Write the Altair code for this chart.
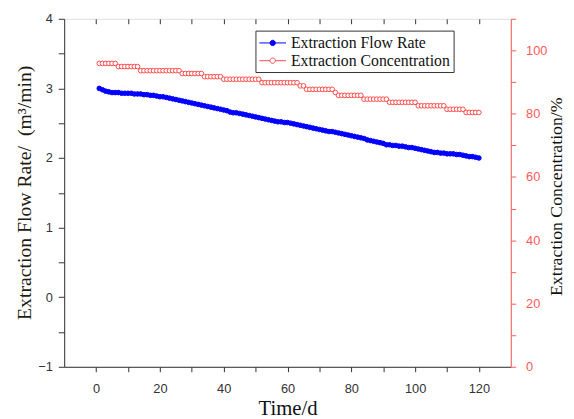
import altair as alt
import pandas as pd

days = list(range(1, 121))

flow_rate = [
    3.00, 2.98, 2.96, 2.95, 2.94, 2.94, 2.94, 2.93, 2.93, 2.93,
    2.93, 2.92, 2.92, 2.92, 2.91, 2.91, 2.90, 2.90, 2.89, 2.88,
    2.88, 2.87, 2.86, 2.85, 2.84, 2.83, 2.82, 2.81, 2.80, 2.79,
    2.78, 2.77, 2.76, 2.75, 2.74, 2.73, 2.72, 2.71, 2.70, 2.69,
    2.68, 2.66, 2.65, 2.65, 2.64, 2.63, 2.62, 2.61, 2.60, 2.59,
    2.58, 2.57, 2.56, 2.55, 2.54, 2.53, 2.52, 2.52, 2.51, 2.51,
    2.50, 2.49, 2.48, 2.47, 2.46, 2.45, 2.44, 2.43, 2.42, 2.41,
    2.40, 2.39, 2.38, 2.38, 2.37, 2.36, 2.35, 2.34, 2.33, 2.32,
    2.31, 2.30, 2.29, 2.28, 2.26, 2.25, 2.24, 2.23, 2.22, 2.21,
    2.19, 2.19, 2.18, 2.18, 2.17, 2.17, 2.16, 2.15, 2.15, 2.14,
    2.13, 2.12, 2.11, 2.10, 2.09, 2.08, 2.08, 2.07, 2.07, 2.06,
    2.06, 2.06, 2.05, 2.05, 2.04, 2.03, 2.02, 2.02, 2.01, 2.00,
]

concentration = [
    95.9, 95.9, 95.9, 95.9, 95.9, 95.9,
    94.9, 94.9, 94.9, 94.9, 94.9, 94.9, 94.9,
    93.6, 93.6, 93.6, 93.6, 93.6, 93.6, 93.6, 93.6, 93.6, 93.6, 93.6, 93.6, 93.6,
    92.7, 92.7, 92.7, 92.7, 92.7, 92.7, 92.7,
    91.7, 91.7, 91.7, 91.7, 91.7, 91.7,
    90.9, 90.9, 90.9, 90.9, 90.9, 90.9, 90.9, 90.9, 90.9, 90.9, 90.9, 90.9,
    89.8, 89.8, 89.8, 89.8, 89.8, 89.8, 89.8, 89.8, 89.8, 89.8, 89.8, 89.8,
    88.8, 88.8,
    87.7, 87.7, 87.7, 87.7, 87.7, 87.7, 87.7, 87.7, 87.7,
    86.7,
    85.8, 85.8, 85.8, 85.8, 85.8, 85.8, 85.8, 85.8,
    84.6, 84.6, 84.6, 84.6, 84.6, 84.6, 84.6, 84.6,
    83.6, 83.6, 83.6, 83.6, 83.6, 83.6, 83.6, 83.6, 83.6,
    82.5, 82.5, 82.5, 82.5, 82.5, 82.5, 82.5, 82.5, 82.5,
    81.4, 81.4, 81.4, 81.4, 81.4, 81.4,
    80.4, 80.4, 80.4, 80.4, 80.4,
]

flow_name = "Extraction Flow Rate"
conc_name = "Extraction Concentration"
series_names = [flow_name, conc_name]

x_ticks = [0, 10, 20, 30, 40, 50, 60, 70, 80, 90, 100, 110, 120]
left_ticks = [-1, -0.5, 0, 0.5, 1, 1.5, 2, 2.5, 3, 3.5, 4]
right_ticks = [0, 10, 20, 30, 40, 50, 60, 70, 80, 90, 100, 110]

df_flow = pd.DataFrame({"day": days, "flow": flow_rate, "series": flow_name})
df_conc = pd.DataFrame({"day": days, "conc": concentration, "series": conc_name})

BLUE = "#0000FF"
RED = "#FF4A4A"
AXIS_RED = "#FF5A5A"
DARK = "#333333"
SERIF = "Liberation Serif"
SANS = "Liberation Sans"

SYMBOL = "M-1.5,0H-0.3M0.3,0H1.5M-0.3,0A0.3,0.3,0,1,0,0.3,0A0.3,0.3,0,1,0,-0.3,0"

legend = alt.Legend(
    title=None, orient="none", legendX=194, legendY=12,
    symbolType=SYMBOL, symbolSize=324, symbolStrokeWidth=1, symbolOffset=5,
    labelFont=SERIF, labelFontSize=16, labelColor="#111111", labelLimit=400,
    strokeColor=DARK, fillColor="white", padding=3, rowPadding=0,
    labelOffset=9,
)

stroke_enc = alt.Stroke("series:N", scale=alt.Scale(domain=series_names, range=[BLUE, RED]), legend=legend)
fill_enc = alt.Fill("series:N", scale=alt.Scale(domain=series_names, range=[BLUE, "#FFFFFF"]), legend=legend)

x_scale = alt.Scale(domain=[-10, 130], nice=False, zero=False)

x_bottom = alt.X(
    "day:Q", scale=x_scale,
    axis=alt.Axis(
        values=x_ticks, labelExpr="datum.value % 20 === 0 ? datum.label : ''",
        title="Time/d", titleFont=SERIF, titleFontSize=21, titleFontWeight="normal",
        titleColor="#111111", titleBaseline="middle", titleY=42,
        labelFont=SANS, labelFontSize=13, labelColor=DARK, labelPadding=11,
        tickSize=5, tickColor=DARK, domainColor=DARK, grid=False,
    ),
)
x_top = alt.X(
    "day:Q", scale=x_scale,
    axis=alt.Axis(
        orient="top", values=x_ticks, offset=-5, tickSize=5, tickColor=DARK,
        domain=False, labels=False, title=None, grid=False,
    ),
)

y_left = alt.Y(
    "flow:Q", scale=alt.Scale(domain=[-1, 4], nice=False, zero=False),
    axis=alt.Axis(
        values=left_ticks,
        labelExpr="datum.value % 1 === 0 ? format(datum.value, 'd') : ''",
        title="Extraction Flow Rate/\u2002(m³/min)", titleFont=SERIF, titleFontSize=20,
        titleFontWeight="normal", titleColor="#221a10",
        titleAngle=270, titleBaseline="middle", titleAlign="center",
        titleX=-40, titleY=176,
        labelFont=SANS, labelFontSize=13, labelColor=DARK, labelPadding=6,
        tickSize=6, tickColor=DARK, domainColor=DARK, grid=False,
    ),
)
y_right = alt.Y(
    "conc:Q", scale=alt.Scale(domain=[0, 110], nice=False, zero=False),
    axis=alt.Axis(
        orient="right", values=right_ticks,
        labelExpr="datum.value % 20 === 0 ? datum.label : ''",
        title="Extraction Concentration/%", titleFont=SERIF, titleFontSize=18,
        titleFontWeight="normal", titleColor="#111111",
        titleAngle=270, titleBaseline="middle", titleAlign="center",
        titleX=46, titleY=180,
        labelFont=SANS, labelFontSize=13, labelColor=AXIS_RED, labelPadding=10,
        tickSize=5, tickColor=AXIS_RED, domainColor=AXIS_RED, grid=False,
    ),
)

flow_line = alt.Chart(df_flow).mark_line(strokeWidth=1).encode(x=x_bottom, y=y_left, stroke=stroke_enc)
flow_pts = alt.Chart(df_flow).mark_point(shape="circle", size=22, strokeWidth=1, opacity=1).encode(
    x=x_bottom, y=y_left, stroke=stroke_enc, fill=fill_enc)
conc_line = alt.Chart(df_conc).mark_line(strokeWidth=1).encode(x=x_top, y=y_right, stroke=stroke_enc)
conc_pts = alt.Chart(df_conc).mark_point(shape="circle", size=22, strokeWidth=1, opacity=1).encode(
    x=x_top, y=y_right, stroke=stroke_enc, fill=fill_enc)

chart = alt.layer(
    alt.layer(flow_line, flow_pts),
    alt.layer(conc_line, conc_pts),
).resolve_scale(y="independent", x="independent").properties(
    width=453, height=353,
    autosize=alt.AutoSizeParams(type="none"),
    padding={"left": 57, "top": 8, "right": 56, "bottom": 50},
).configure_view(stroke=DARK, strokeWidth=1).configure(background="white")

chart.save("out.html", embed_options={"renderer": "svg", "actions": False})
